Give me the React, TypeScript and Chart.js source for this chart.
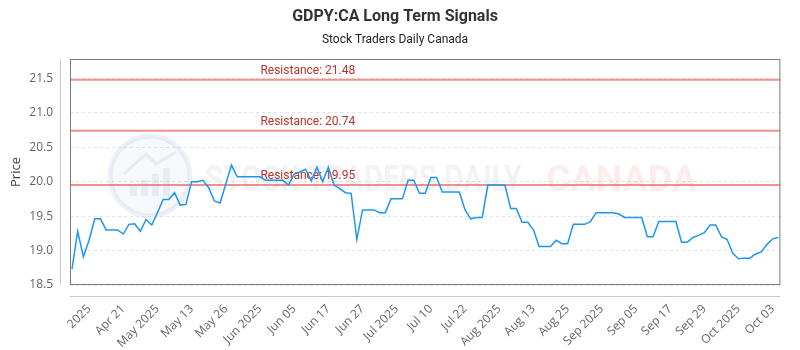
import React, { useEffect, useRef } from "react";
import { Chart, registerables } from "chart.js";

Chart.register(...registerables);

// ---- data ----
const prices: number[] = [
  18.73, 19.28, 18.91, 19.15, 19.46, 19.46, 19.3, 19.3, 19.3, 19.24,
  19.38, 19.39, 19.28, 19.45, 19.37, 19.55, 19.74, 19.74, 19.84, 19.66,
  19.67, 20.0, 20.0, 20.02, 19.91, 19.72, 19.69, 19.97, 20.24, 20.07,
  20.07, 20.07, 20.07, 20.07, 20.02, 20.02, 20.02, 20.02, 19.95, 20.11,
  20.14, 20.18, 20.01, 20.21, 20.0, 20.21, 19.95, 19.9, 19.84, 19.83,
  19.16, 19.59, 19.59, 19.59, 19.55, 19.55, 19.75, 19.75, 19.75, 20.02,
  20.02, 19.83, 19.83, 20.06, 20.06, 19.85, 19.85, 19.85, 19.85, 19.59,
  19.46, 19.48, 19.48, 19.95, 19.95, 19.95, 19.95, 19.61, 19.61, 19.41,
  19.41, 19.3, 19.06, 19.06, 19.06, 19.15, 19.1, 19.1, 19.38, 19.38,
  19.38, 19.42, 19.55, 19.55, 19.55, 19.55, 19.53, 19.48, 19.48, 19.48,
  19.48, 19.2, 19.2, 19.42, 19.42, 19.42, 19.42, 19.12, 19.12, 19.19,
  19.22, 19.26, 19.37, 19.37, 19.2, 19.16, 18.96, 18.88, 18.89, 18.89,
  18.95, 18.98, 19.09, 19.17, 19.19,
];

const tickLabels: string[] = [
  "2025", "Apr 21", "May 2025", "May 13", "May 26", "Jun 2025", "Jun 05",
  "Jun 17", "Jun 27", "Jul 2025", "Jul 10", "Jul 22", "Aug 2025", "Aug 13",
  "Aug 25", "Sep 2025", "Sep 05", "Sep 17", "Sep 29", "Oct 2025", "Oct 03",
];
const tickIndices: number[] = [
  3, 9, 15, 21, 27, 33, 39, 45, 51, 57, 63, 69, 75, 81, 87, 93, 99, 105, 111, 117, 123,
];

const yTicks: number[] = [18.5, 19, 19.5, 20, 20.5, 21, 21.5];
const resistanceLevels: number[] = [21.48, 20.74, 19.95];

const TITLE = "GDPY:CA Long Term Signals";
const SUBTITLE = "Stock Traders Daily Canada";

const decorPlugin = {
  id: "decor",
  beforeDatasetsDraw(chart: any) {
    const { ctx, chartArea: a, scales } = chart;
    ctx.save();
    ctx.beginPath();
    ctx.rect(a.left, a.top, a.width, a.height);
    ctx.clip();

    // watermark logo
    const cx = a.left + 80;
    const cy = a.top + 117;
    ctx.beginPath();
    ctx.arc(cx, cy, 40, 0, Math.PI * 2);
    ctx.fillStyle = "rgba(170,190,220,0.10)";
    ctx.fill();
    ctx.lineWidth = 5;
    ctx.strokeStyle = "rgba(150,170,205,0.16)";
    ctx.stroke();
    ctx.fillStyle = "rgba(150,170,205,0.16)";
    const bars = [10, 16, 22, 28];
    bars.forEach((h, i) => {
      ctx.fillRect(cx - 20 + i * 11, cy + 20 - h, 7, h);
    });
    ctx.beginPath();
    ctx.moveTo(cx - 26, cy - 2);
    ctx.lineTo(cx - 4, cy - 22);
    ctx.lineTo(cx + 6, cy - 12);
    ctx.lineTo(cx + 26, cy - 24);
    ctx.lineWidth = 3;
    ctx.stroke();

    // watermark text
    const drawFit = (text: string, x: number, w: number, color: string) => {
      ctx.font = "bold 36px 'Liberation Sans Narrow', Roboto, sans-serif";
      const m = ctx.measureText(text).width;
      ctx.save();
      ctx.translate(x, a.top + 132);
      ctx.scale(w / m, 1);
      ctx.fillStyle = color;
      ctx.textAlign = "left";
      ctx.textBaseline = "alphabetic";
      ctx.fillText(text, 0, 0);
      ctx.restore();
    };
    drawFit("STOCK TRADERS DAILY", a.left + 135, 317, "rgba(130,150,185,0.11)");
    drawFit("CANADA", a.left + 476, 151, "rgba(240,100,100,0.12)");

    // resistance lines
    resistanceLevels.forEach((v) => {
      const y = scales.y.getPixelForValue(v);
      ctx.beginPath();
      ctx.moveTo(a.left, y);
      ctx.lineTo(a.right, y);
      ctx.lineWidth = 2;
      ctx.strokeStyle = "rgba(232,100,92,0.7)";
      ctx.stroke();
      ctx.font = "12px Roboto, sans-serif";
      ctx.fillStyle = "#b8332a";
      ctx.textAlign = "left";
      ctx.textBaseline = "bottom";
      ctx.fillText("Resistance: " + v.toFixed(2), a.left + a.width * 0.268, y - 3);
    });
    ctx.restore();
  },
  afterDraw(chart: any) {
    const { ctx, chartArea: a } = chart;
    ctx.save();
    ctx.lineWidth = 1;
    ctx.strokeStyle = "#7a7a7a";
    ctx.strokeRect(a.left + 0.5, a.top + 0.5, a.width - 1, a.height - 1);
    ctx.strokeStyle = "#c8c8c8";
    ctx.beginPath();
    ctx.moveTo(a.left - 9.5, a.top);
    ctx.lineTo(a.left - 9.5, a.bottom);
    ctx.moveTo(a.left, a.bottom + 11.5);
    ctx.lineTo(a.right, a.bottom + 11.5);
    ctx.stroke();
    ctx.restore();
  },
};

export default function App() {
  const ref = useRef<HTMLCanvasElement>(null);

  useEffect(() => {
    if (!ref.current) return;
    const chart = new Chart(ref.current, {
      type: "line",
      data: {
        datasets: [
          {
            label: "Price",
            data: prices.map((p, i) => ({ x: i, y: p })),
            borderColor: "#1e96f0",
            borderWidth: 1.5,
            pointRadius: 0,
            tension: 0,
            fill: false,
          },
        ],
      },
      options: {
        animation: false,
        responsive: false,
        layout: { padding: { left: 0, right: 10, top: 0, bottom: 0 } },
        plugins: {
          legend: { display: false },
          tooltip: { enabled: false },
          title: {
            display: true,
            text: TITLE,
            color: "#333",
            font: { size: 16, weight: "bold", family: "Roboto, sans-serif" },
            padding: { top: 7, bottom: 5 },
          },
          subtitle: {
            display: true,
            text: SUBTITLE,
            color: "#222",
            font: { size: 12, family: "Roboto, sans-serif" },
            padding: { top: 2, bottom: 11.4 },
          },
        },
        scales: {
          x: {
            type: "linear",
            min: -0.35,
            max: prices.length - 1 + 0.35,
            grid: { display: false, drawTicks: false },
            border: { display: false },
            afterBuildTicks: (scale: any) => {
              scale.ticks = tickIndices.map((v) => ({ value: v }));
            },
            afterFit: (scale: any) => {
              scale.height = 65;
            },
            ticks: {
              autoSkip: false,
              minRotation: 45,
              maxRotation: 45,
              padding: 17,
              color: "#666",
              font: { size: 12, family: "'Open Sans', sans-serif" },
              callback: (_v: any, i: number) => tickLabels[i],
            },
          },
          y: {
            min: 18.5,
            max: 21.78,
            grid: { color: "#e4e4e4", drawTicks: false },
            border: { display: false, dash: [3, 3] },
            afterBuildTicks: (scale: any) => {
              scale.ticks = yTicks.map((v) => ({ value: v }));
            },
            afterFit: (scale: any) => {
              scale.width = 70;
            },
            ticks: {
              padding: 17,
              color: "#666",
              font: { size: 12, family: "'Open Sans', sans-serif" },
              callback: (v: any) => Number(v).toFixed(1),
            },
            title: {
              display: true,
              text: "Price",
              color: "#444",
              font: { size: 13, family: "'Open Sans', sans-serif" },
              padding: { top: 8, bottom: 0 },
            },
          },
        },
      },
      plugins: [decorPlugin],
    } as any);
    return () => chart.destroy();
  }, []);

  return (
    <div style={{ position: "absolute", left: 0, top: 0, width: 800, height: 350, background: "#fff" }}>
      <canvas ref={ref} width={800} height={350} style={{ display: "block" }} />
    </div>
  );
}
